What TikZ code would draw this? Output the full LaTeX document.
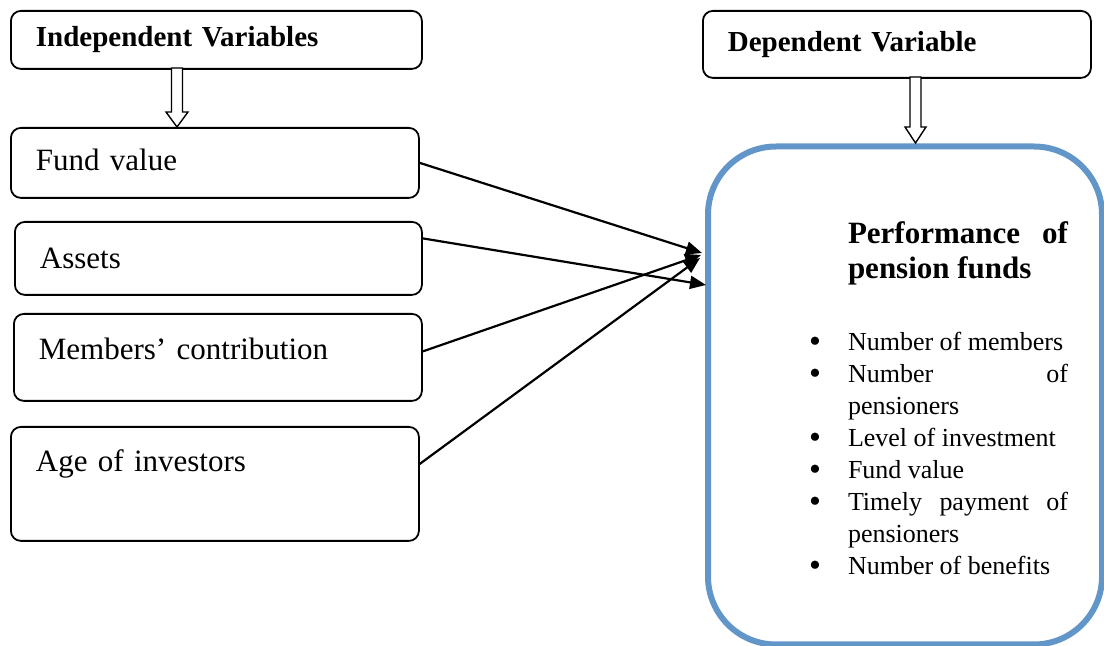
\documentclass[tikz,border=0pt]{standalone}
\usepackage{fontspec}
\setmainfont{Liberation Serif}
\usetikzlibrary{arrows.meta}
\definecolor{perfblue}{RGB}{98,150,201}

\newcommand{\pitem}{\noindent\llap{\raisebox{-1.2pt}{\fontsize{17}{16}\selectfont\textbullet}\hspace{13.5pt}}}

\tikzset{
  varbox/.style={draw, line width=0.9pt, rounded corners=5pt, anchor=north west,
    align=left, inner xsep=12.5pt, font=\fontsize{15.5}{18}\selectfont},
  headbox/.style={varbox, font=\bfseries\fontsize{14.5}{17}\selectfont},
  perfbox/.style={draw=perfblue, line width=3pt, rounded corners=34pt, anchor=north west,
    minimum width=197pt, minimum height=249pt, inner xsep=17pt, text width=163pt, align=justify},
  hollow/.style={draw, fill=white, line width=0.7pt},
  link/.style={line width=1.1pt, -{Triangle[length=8pt, width=6.5pt]}}
}

\begin{document}
\begin{tikzpicture}[x=0.5pt, y=-0.5pt]
  \useasboundingbox (0,0) rectangle (1104,646);

  % headers
  \node[headbox, text width=180.5pt, minimum height=29pt] (indep) at (10,10) {Independent Variables};
  \node[headbox, text width=169pt, minimum height=33.5pt] (dep) at (702,10) {Dependent Variable};

  % independent variables
  \node[varbox, text width=179pt, minimum height=35pt, text depth=3pt] (fund) at (10,127) {Fund value};
  \node[varbox, text width=178.5pt, minimum height=36.5pt] (assets) at (14,221) {Assets};
  \node[varbox, text width=179pt, minimum height=43.5pt, text depth=9pt] (memb) at (13,313) {Members’ contribution};
  \node[varbox, text width=179pt, minimum height=57pt] (age) at (10,426) {Age of investors\\\strut};

  % dependent variable
  \node[perfbox] (perf) at (705,143.5) {\hyphenpenalty=10000\tolerance=10000\par\vspace*{-3pt}%
    {\leftskip=53pt\bfseries\fontsize{15.5}{17.5}\selectfont\noindent Performance of pension funds\par}
    \vspace{20pt}
    {\leftskip=53pt\fontsize{13}{16}\selectfont
    \pitem Number of members\par
    \pitem Number of pensioners\par
    \pitem Level of investment\par
    \pitem Fund value\par
    \pitem Timely payment of pensioners\par
    \pitem Number of benefits\par}
  };

  % hollow arrows
  \coordinate (indtip) at (177,127);
  \coordinate (deptip) at (915.5,143);
  \draw[hollow] (indtip) -- ++(-11,-15) -- ++(5.5,0) -- ++(0,-44) -- ++(11,0)
    -- ++(0,44) -- ++(5.5,0) -- cycle;
  \draw[hollow] (deptip) -- ++(-10.5,-16) -- ++(5,0) -- ++(0,-50) -- ++(11,0)
    -- ++(0,50) -- ++(5,0) -- cycle;

  % links
  \coordinate (hitA) at (702,253);
  \coordinate (hitB) at (706,285);
  \coordinate (hitC) at (701,255);
  \coordinate (hitD) at (700,258);
  \draw[link] (fund.east) -- (hitA);
  \draw[link] ([yshift=10pt]assets.east) -- (hitB);
  \draw[link] ([yshift=3pt]memb.east) -- (hitC);
  \draw[link] ([yshift=10pt]age.east) -- (hitD);
\end{tikzpicture}
\end{document}
